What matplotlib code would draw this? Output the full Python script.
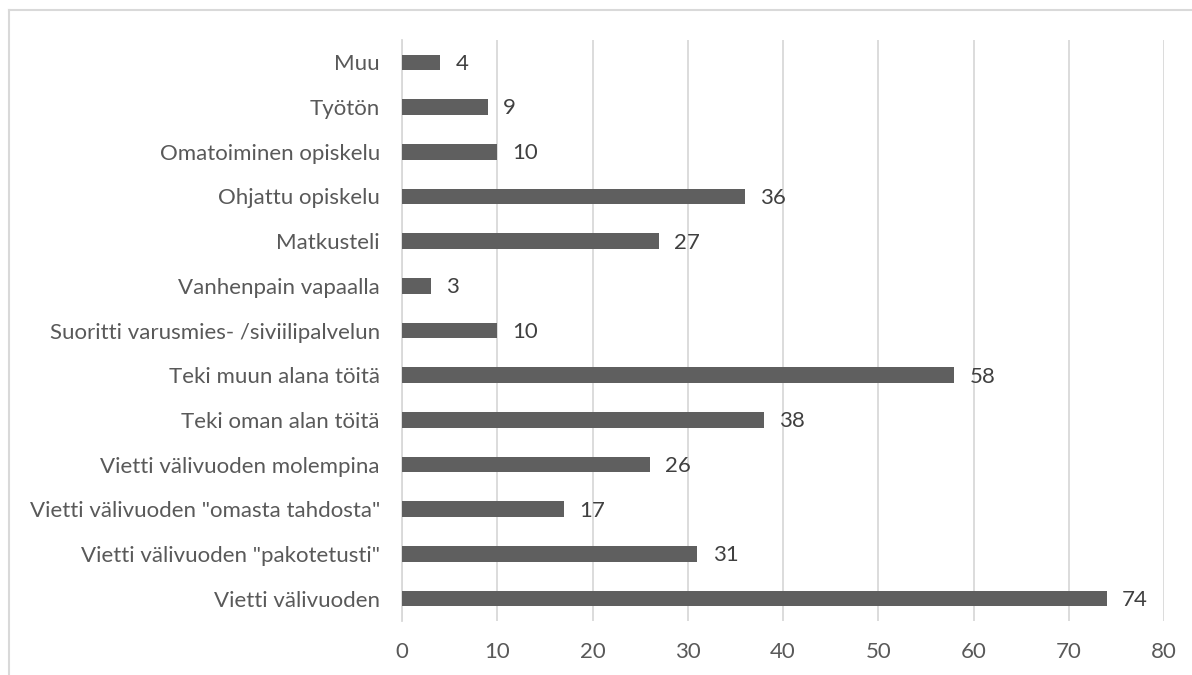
import matplotlib.pyplot as plt
from matplotlib.lines import Line2D

categories = [
    "Vietti välivuoden",
    'Vietti välivuoden "pakotetusti"',
    'Vietti välivuoden "omasta tahdosta"',
    "Vietti välivuoden molempina",
    "Teki oman alan töitä",
    "Teki muun alana töitä",
    "Suoritti varusmies- /siviilipalvelun",
    "Vanhenpain vapaalla",
    "Matkusteli",
    "Ohjattu opiskelu",
    "Omatoiminen opiskelu",
    "Työtön",
    "Muu",
]
values = [74, 31, 17, 26, 38, 58, 10, 3, 27, 36, 10, 9, 4]
x_ticks = [0, 10, 20, 30, 40, 50, 60, 70, 80]

text_col = "#595959"
grid_col = "#D9D9D9"
bar_col = "#5F5F5F"

plt.rcParams["font.family"] = ["Lato", "DejaVu Sans"]

fig = plt.figure(figsize=(11.92, 6.75), dpi=100)
ax = fig.add_axes([402 / 1192, 1 - 621 / 675, (1164 - 402) / 1192, (621 - 40) / 675])

pos = range(len(categories))
ax.barh(pos, values, height=0.35, color=bar_col, zorder=3)
for y, v in zip(pos, values):
    ax.annotate(str(v), (v, y), xytext=(11, -1), textcoords="offset points",
                va="center", ha="left", fontsize=16, color="#404040")

ax.set_xlim(0, 80)
ax.set_ylim(-0.5, len(categories) - 0.5)
ax.set_xticks(x_ticks)
ax.set_yticks(list(pos))
ax.set_yticklabels(categories)
ax.tick_params(axis="both", length=0, labelsize=16, colors=text_col)
ax.tick_params(axis="x", pad=15)
ax.tick_params(axis="y", pad=16)
ax.xaxis.grid(True, color=grid_col, linewidth=1.3, zorder=0)
for s in ["top", "right", "bottom"]:
    ax.spines[s].set_visible(False)
ax.spines["left"].set_color(grid_col)
ax.spines["left"].set_linewidth(1.3)

# chart frame (top and left edges)
W, H = 1192, 675
fig.add_artist(Line2D([9 / W, 1], [1 - 10 / H, 1 - 10 / H], color=grid_col, lw=1.5))
fig.add_artist(Line2D([9 / W, 9 / W], [0, 1 - 10 / H], color=grid_col, lw=1.5))

fig.savefig("out.png", dpi=100, facecolor="white")
